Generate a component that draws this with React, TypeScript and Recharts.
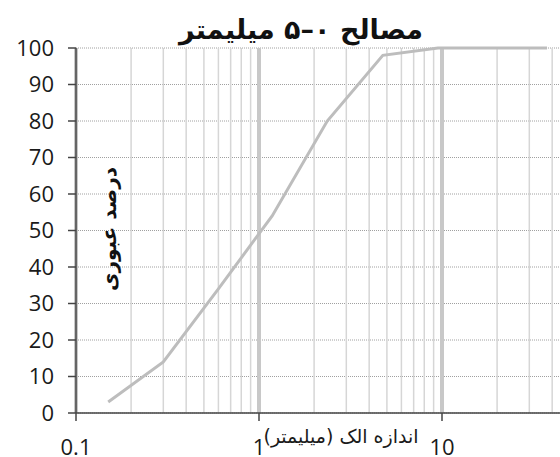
import React from 'react';
import { LineChart, Line, XAxis, YAxis, CartesianGrid, ReferenceLine } from 'recharts';

const sieveSizes = [0.15, 0.3, 0.6, 1.18, 2.36, 4.75, 9.5, 19, 37.5];
const passingPercent = [3, 14, 34, 54, 80, 98, 100, 100, 100];
const xTicks = [0.1, 1, 10, 100];
const yTicks = [0, 10, 20, 30, 40, 50, 60, 70, 80, 90, 100];
const majorGrid = [0.1, 1, 10];
const minorGrid = [0.2, 0.3, 0.4, 0.5, 0.6, 0.7, 0.8, 0.9, 2, 3, 4, 5, 6, 7, 8, 9, 20, 30, 40, 50, 60, 70, 80, 90];
const titleText = 'مصالح ۰–۵ میلیمتر';
const xLabelText = 'اندازه الک (میلیمتر)';
const yLabelText = 'درصد عبوری';

const data = sieveSizes.map((s, i) => ({ size: s, pass: passingPercent[i] }));

const tickFont = { fontFamily: '"Open Sans", sans-serif', fontSize: 22, fill: '#1a1a1a' };

export default function App() {
  return (
    <div style={{ position: 'fixed', left: 0, top: 0, width: 560, height: 457, overflow: 'hidden', background: '#fff' }}>
      <LineChart width={640} height={457} data={data} margin={{ top: 48, right: 15, left: 16, bottom: 4 }}>
        <CartesianGrid horizontal={true} vertical={false} stroke="#a0a0a0" strokeDasharray="1 1" />
        {minorGrid.map((v) => (
          <ReferenceLine key={'m' + v} x={v} stroke="#d6d6d6" strokeWidth={1.5} />
        ))}
        {majorGrid.map((v) => (
          <ReferenceLine key={'M' + v} x={v} stroke="#c8c8c8" strokeWidth={4} />
        ))}
        <XAxis
          dataKey="size"
          type="number"
          scale="log"
          domain={[0.1, 100]}
          ticks={xTicks}
          tickFormatter={(v) => String(v)}
          allowDataOverflow
          height={40}
          tickSize={8}
          tickMargin={18}
          tick={tickFont}
          stroke="#444"
          strokeWidth={1.5}
        />
        <YAxis
          type="number"
          domain={[0, 100]}
          ticks={yTicks}
          width={60}
          tickSize={8}
          tickMargin={14}
          tick={tickFont}
          stroke="#444"
          strokeWidth={1.5}
        />
        <Line
          type="linear"
          dataKey="pass"
          stroke="#bdbdbd"
          strokeWidth={3}
          dot={false}
          isAnimationActive={false}
        />
        <text x={301} y={39} textAnchor="middle" style={{ fontFamily: '"DejaVu Sans", sans-serif', fontWeight: 'bold', fontSize: 27, fill: '#111' }}>
          {titleText}
        </text>
        <text x={341} y={443} textAnchor="middle" style={{ fontFamily: '"DejaVu Sans", sans-serif', fontSize: 19, fill: '#1a1a1a' }}>
          {xLabelText}
        </text>
        <text x={109} y={229} textAnchor="middle" dominantBaseline="central" transform="rotate(-90 109 229)" style={{ fontFamily: '"DejaVu Sans", sans-serif', fontWeight: 'bold', fontSize: 20, fill: '#111' }}>
          {yLabelText}
        </text>
      </LineChart>
    </div>
  );
}
